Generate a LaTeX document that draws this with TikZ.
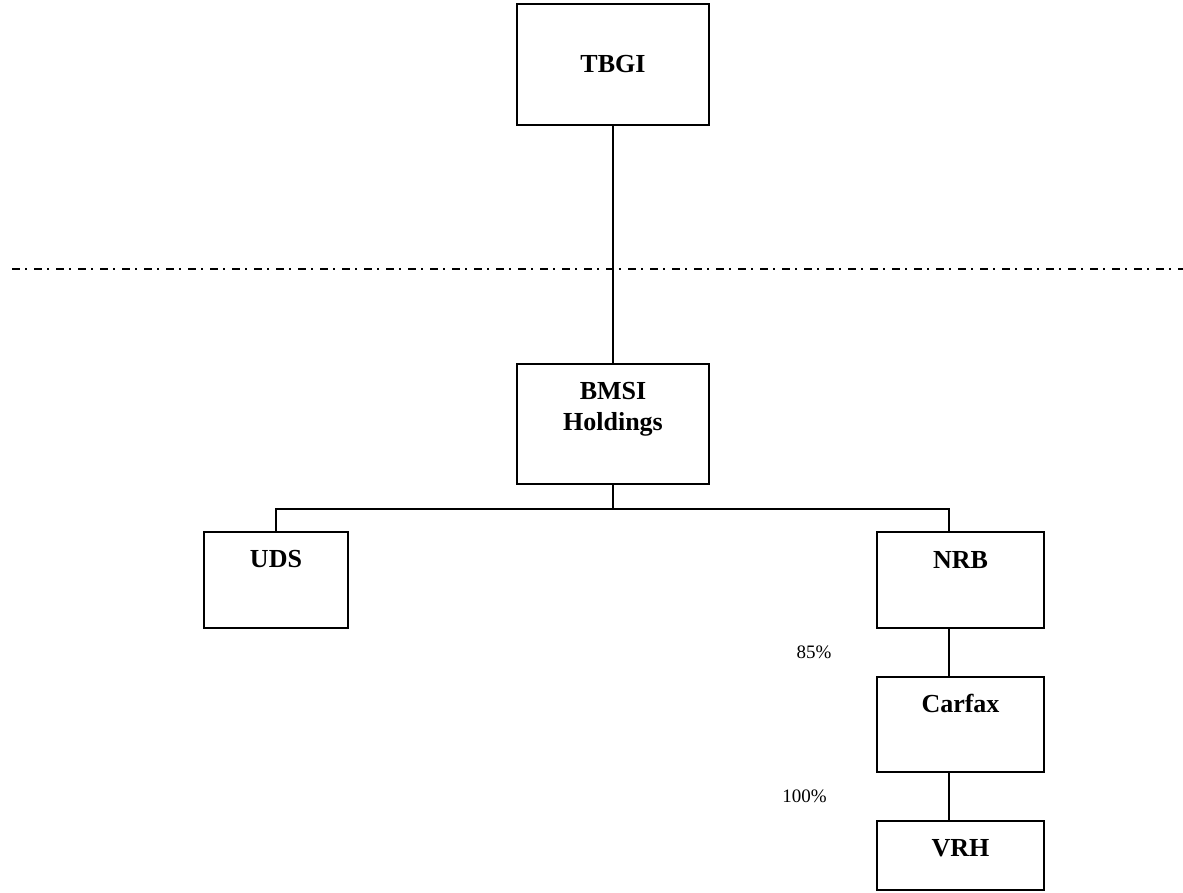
\documentclass[tikz,border=0pt]{standalone}
\usepackage{fontspec}
\setmainfont{Liberation Serif}
\begin{document}
\begin{tikzpicture}[x=1pt,y=-1pt,
  box/.style={draw,line width=2pt,rectangle,inner sep=0pt},
  lbl/.style={inner sep=0pt,anchor=base,font=\fontsize{26}{31}\selectfont\bfseries},
  pct/.style={inner sep=0pt,anchor=base,font=\fontsize{19}{23}\selectfont},
  conn/.style={line width=2pt},
  sep/.style={line width=1.5pt,dash pattern=on 8pt off 5pt on 1.5pt off 7.5pt}]
\useasboundingbox (0,0) rectangle (1183,892);
% boxes
\node[box,minimum width=192pt,minimum height=121pt] (tbgi) at (613,64.5) {};
\node[box,minimum width=192pt,minimum height=120pt] (bmsi) at (613,424) {};
\node[box,minimum width=144pt,minimum height=96pt] (uds) at (276,580) {};
\node[box,minimum width=167pt,minimum height=96pt] (nrb) at (960.5,580) {};
\node[box,minimum width=167pt,minimum height=95pt] (carfax) at (960.5,724.5) {};
\node[box,minimum width=167pt,minimum height=69pt] (vrh) at (960.5,855.5) {};
% texts
\node[lbl] (tbgit) at ([yshift=-8.2pt]tbgi.center) {TBGI};
\node[lbl] (bmsit1) at ([yshift=-36pt]bmsi.north) {BMSI};
\node[lbl] (bmsit2) at ([yshift=-67.7pt]bmsi.north) {Holdings};
\node[lbl] (udst) at ([yshift=-36.3pt]uds.north) {UDS};
\node[lbl] (nrbt) at ([yshift=-37pt]nrb.north) {NRB};
\node[lbl] (carfaxt) at ([yshift=-36.3pt]carfax.north) {Carfax};
\node[lbl] (vrht) at ([yshift=-36.3pt]vrh.north) {VRH};
\node[pct] (p85) at (814,658) {85\%};
\node[pct] (p100) at (804.5,802.7) {100\%};
% separator
\coordinate (dl) at (12,269);
\coordinate (dr) at (1183,269);
\draw[sep] (dl) -- (dr);
% connectors
\coordinate (bus) at (613,509);
\coordinate (col) at (949,0);
\draw[conn] (tbgi.south) -- (bmsi.north);
\draw[conn] (bmsi.south) -- (bus);
\draw[conn] (uds.north) |- (bus) -| (col |- nrb.north);
\draw[conn] (col |- nrb.south) -- (col |- carfax.north);
\draw[conn] (col |- carfax.south) -- (col |- vrh.north);
\end{tikzpicture}
\end{document}
